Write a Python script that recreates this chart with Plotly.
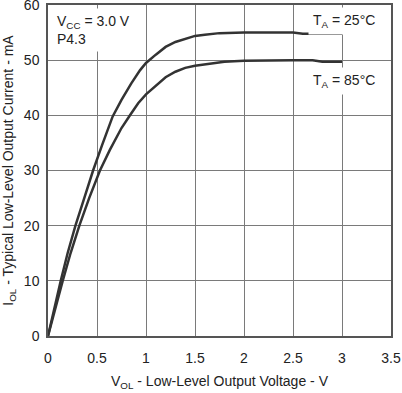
import plotly.graph_objects as go

v_25c = [0, 0.05, 0.13, 0.2, 0.28, 0.37, 0.46, 0.55, 0.66, 0.75, 0.85, 0.94, 1.0, 1.1, 1.2, 1.3, 1.4, 1.5, 1.6, 1.75, 2.0, 2.25, 2.5, 2.6, 2.8, 3.0]
i_25c = [0, 4, 10, 15, 20, 25, 30, 34.5, 39.8, 42.8, 45.8, 48.2, 49.5, 51, 52.4, 53.3, 53.9, 54.4, 54.6, 54.9, 55.0, 55.0, 55.0, 54.8, 54.8, 54.8]

v_85c = [0, 0.05, 0.15, 0.23, 0.32, 0.42, 0.53, 0.63, 0.75, 0.84, 0.92, 1.0, 1.1, 1.2, 1.3, 1.4, 1.5, 1.65, 1.8, 2.0, 2.25, 2.5, 2.7, 2.8, 3.0]
i_85c = [0, 3.5, 10, 15, 20, 25, 30, 33.7, 37.7, 40.1, 42.2, 43.8, 45.4, 46.9, 47.9, 48.6, 49.0, 49.4, 49.7, 49.9, 50.0, 50.0, 50.0, 49.7, 49.7]

x_ticks = [0, 0.5, 1, 1.5, 2, 2.5, 3, 3.5]
x_tick_labels = ["0", "0.5", "1", "1.5", "2", "2.5", "3", "3.5"]
y_ticks = [0, 10, 20, 30, 40, 50, 60]
y_tick_labels = ["0", "10", "20", "30", "40", "50", "60"]

FONT = "Liberation Sans, Arial, sans-serif"
LINE = "#333333"

fig = go.Figure()
fig.add_trace(go.Scatter(x=v_25c, y=i_25c, mode="lines", line=dict(color=LINE, width=2.5), showlegend=False))
fig.add_trace(go.Scatter(x=v_85c, y=i_85c, mode="lines", line=dict(color=LINE, width=2.5), showlegend=False))

axis_common = dict(
    showgrid=True, gridcolor="#7a7a7a", gridwidth=1,
    showline=True, linecolor="#555555", linewidth=1.5, mirror=True,
    zeroline=False, ticks="", automargin=False, ticklabeloverflow="allow",
    tickfont=dict(family=FONT, size=14, color="#222"),
)

fig.update_xaxes(range=[0, 3.5], tickvals=x_ticks, ticktext=x_tick_labels,
                 ticklabelstandoff=8,
                 title=dict(text="V<sub>OL</sub> - Low-Level Output Voltage - V",
                            font=dict(family=FONT, size=14, color="#222"), standoff=12),
                 **axis_common)
fig.update_yaxes(range=[0, 60], tickvals=y_ticks, ticktext=y_tick_labels,
                 ticklabelstandoff=4,
                 title=dict(text="I<sub>OL</sub> - Typical Low-Level Output Current - mA",
                            font=dict(family=FONT, size=14, color="#222"), standoff=8),
                 **axis_common)

ann_font = dict(family=FONT, size=14, color="#222")
fig.add_annotation(xref="paper", yref="paper", x=0.012, y=0.992, xanchor="left", yanchor="top",
                   text="V<sub>CC</sub> = 3.0 V<br>P4.3", align="left", showarrow=False,
                   bgcolor="white", borderpad=4, font=ann_font)
fig.add_annotation(xref="paper", yref="paper", x=0.968, y=0.952, xanchor="right", yanchor="middle",
                   text="T<sub>A</sub> = 25°C", showarrow=False, bgcolor="white", borderpad=4, font=ann_font)
fig.add_annotation(xref="paper", yref="paper", x=0.968, y=0.770, xanchor="right", yanchor="middle",
                   text="T<sub>A</sub> = 85°C", showarrow=False, bgcolor="white", borderpad=4, font=ann_font)

fig.update_layout(
    width=402, height=393,
    margin=dict(l=48, r=11, t=5, b=57),
    plot_bgcolor="white", paper_bgcolor="white",
    font=dict(family=FONT, size=14, color="#222"),
)

fig.write_html("out.html", config={"displayModeBar": False},
               post_script="document.body.style.margin='0';document.body.style.overflow='hidden';")
